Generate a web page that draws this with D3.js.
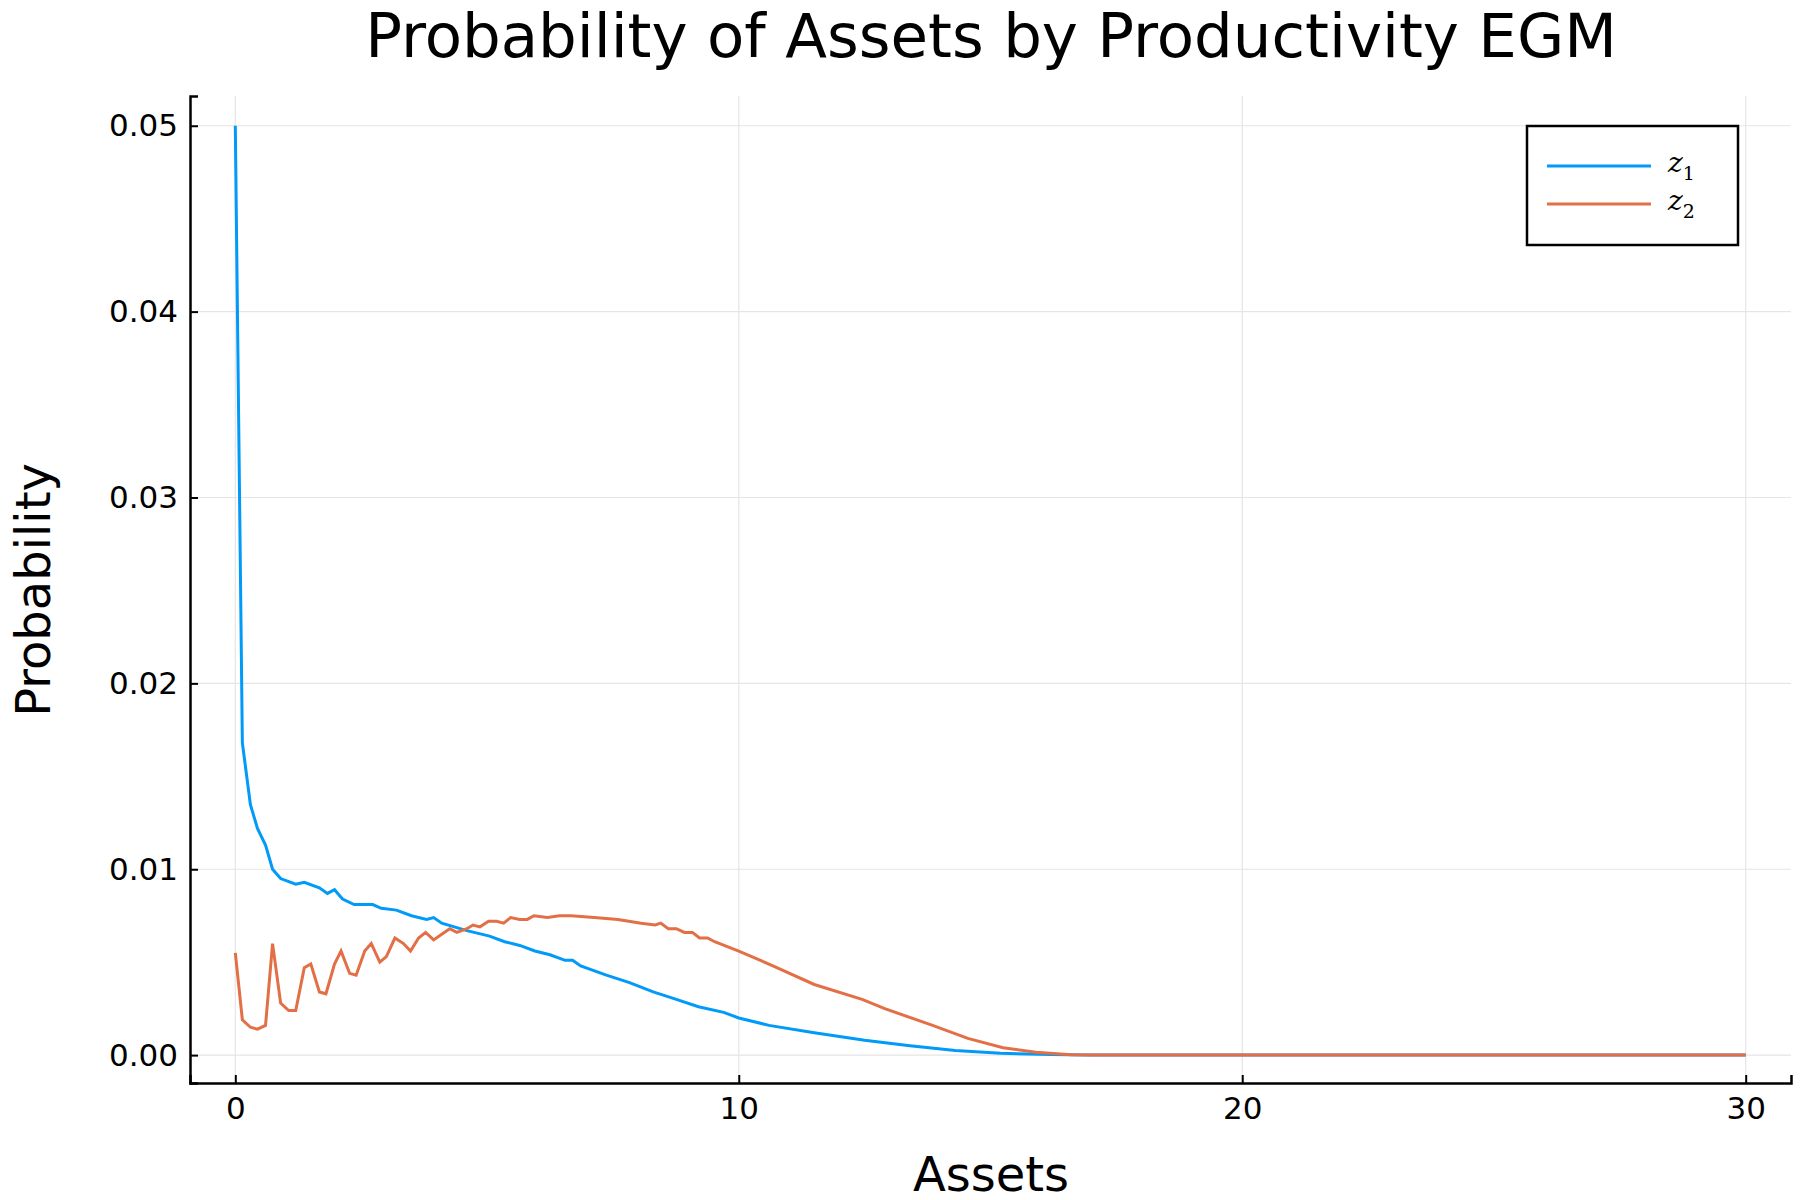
<!DOCTYPE html>
<html><head><meta charset="utf-8">
<script src="https://cdn.jsdelivr.net/npm/d3@7"></script>
<style>body{margin:0;background:#fff}svg{font-family:"DejaVu Sans",sans-serif}</style>
</head><body><svg id="c" width="1800" height="1200"></svg>
<script>
const z1X=[0,0.14,0.3,0.44,0.6,0.74,0.9,1.2,1.37,1.67,1.83,1.97,2.13,2.36,2.73,2.9,3.2,3.5,3.8,3.94,4.1,4.6,5.05,5.35,5.65,5.95,6.25,6.55,6.7,6.86,7.37,7.83,8.3,8.76,9.2,9.7,10,10.6,11.5,12.5,13.4,14.3,15.2,16.2,16.9,30];
const z1Y=[0.05,0.0168,0.01347,0.0122,0.0113,0.0100,0.0095,0.0092,0.0093,0.0090,0.0087,0.0089,0.0084,0.0081,0.0081,0.0079,0.0078,0.0075,0.0073,0.0074,0.0071,0.0067,0.0064,0.0061,0.0059,0.0056,0.0054,0.0051,0.0051,0.0048,0.0043,0.0039,0.0034,0.0030,0.0026,0.0023,0.0020,0.0016,0.0012,0.0008,0.0005,0.00025,0.0001,0.00003,0,0];
const z2X=[0,0.14,0.3,0.44,0.6,0.74,0.9,1.06,1.2,1.37,1.5,1.67,1.8,1.97,2.1,2.27,2.4,2.57,2.7,2.87,3.0,3.17,3.34,3.48,3.64,3.78,3.94,4.1,4.26,4.4,4.6,4.72,4.86,5.03,5.19,5.33,5.47,5.65,5.8,5.93,6.2,6.44,6.67,7.13,7.6,8.06,8.34,8.45,8.6,8.76,8.92,9.08,9.22,9.38,9.52,10,10.6,11.5,12.45,12.9,13.85,14.55,15.25,15.9,16.6,17.1,30];
const z2Y=[0.0055,0.0019,0.0015,0.0014,0.0016,0.0060,0.0028,0.0024,0.0024,0.0047,0.0049,0.0034,0.0033,0.0049,0.0056,0.0044,0.0043,0.0056,0.0060,0.0050,0.0053,0.0063,0.0060,0.0056,0.0063,0.0066,0.0062,0.0065,0.0068,0.0066,0.0068,0.0070,0.0069,0.0072,0.0072,0.0071,0.0074,0.0073,0.0073,0.0075,0.0074,0.0075,0.0075,0.0074,0.0073,0.0071,0.0070,0.0071,0.0068,0.0068,0.0066,0.0066,0.0063,0.0063,0.0061,0.0056,0.0049,0.0038,0.0030,0.0025,0.0016,0.0009,0.0004,0.00015,0.00002,0,0];
const xTicks=[0,10,20,30];
const yTicks=[0,0.01,0.02,0.03,0.04,0.05];
const svg=d3.select("#c");
const L=190,R=1791,T=96,B=1083;
const x=d3.scaleLinear().domain([-0.9,30.9]).range([L,R]);
const y=d3.scaleLinear().domain([-0.0015,0.0516]).range([B,T]);
const g=svg.append("g");
xTicks.forEach(t=>g.append("line").attr("x1",x(t)).attr("x2",x(t)).attr("y1",T).attr("y2",B).attr("stroke","#e5e5e5").attr("stroke-width",1.2));
yTicks.forEach(t=>g.append("line").attr("x1",L).attr("x2",R).attr("y1",y(t)).attr("y2",y(t)).attr("stroke","#e5e5e5").attr("stroke-width",1.2));
const xa=svg.append("g").attr("transform",`translate(0,${B})`).call(d3.axisBottom(x).tickValues(xTicks).tickSize(-8).tickPadding(14).tickFormat(d3.format("d")));
const ya=svg.append("g").attr("transform",`translate(${L},0)`).call(d3.axisLeft(y).tickValues(yTicks).tickSize(-8).tickPadding(12).tickFormat(d3.format(".2f")));
[xa,ya].forEach(a=>{a.select(".domain").attr("stroke","#000").attr("stroke-width",2.5);a.selectAll(".tick line").attr("stroke","#000").attr("stroke-width",2);a.selectAll("text").attr("font-size",31).attr("fill","#000").attr("font-family","DejaVu Sans");});
const line=d3.line().x(d=>x(d[0])).y(d=>y(d[1]));
svg.append("path").datum(z1X.map((v,i)=>[v,z1Y[i]])).attr("d",line).attr("fill","none").attr("stroke","#009af9").attr("stroke-width",3);
svg.append("path").datum(z2X.map((v,i)=>[v,z2Y[i]])).attr("d",line).attr("fill","none").attr("stroke","#e26f46").attr("stroke-width",3);
svg.append("text").attr("x",991).attr("y",57).attr("text-anchor","middle").attr("font-size",61).text("Probability of Assets by Productivity EGM");
svg.append("text").attr("x",991).attr("y",1191).attr("text-anchor","middle").attr("font-size",48).text("Assets");
svg.append("text").attr("transform","translate(50,590) rotate(-90)").attr("text-anchor","middle").attr("font-size",48).text("Probability");
svg.append("rect").attr("x",1527).attr("y",126).attr("width",211).attr("height",119).attr("fill","#fff").attr("stroke","#000").attr("stroke-width",2.5);
[["#009af9","1",166],["#e26f46","2",204]].forEach(([c,s,yy])=>{
 svg.append("line").attr("x1",1547).attr("x2",1651).attr("y1",yy).attr("y2",yy).attr("stroke",c).attr("stroke-width",3);
 const t=svg.append("text").attr("x",1668).attr("y",yy+6).attr("font-family","DejaVu Serif").attr("font-size",28);
 t.append("tspan").attr("font-style","italic").text("z");
 t.append("tspan").attr("font-size",19).attr("dy",8).text(s);
});
</script></body></html>
